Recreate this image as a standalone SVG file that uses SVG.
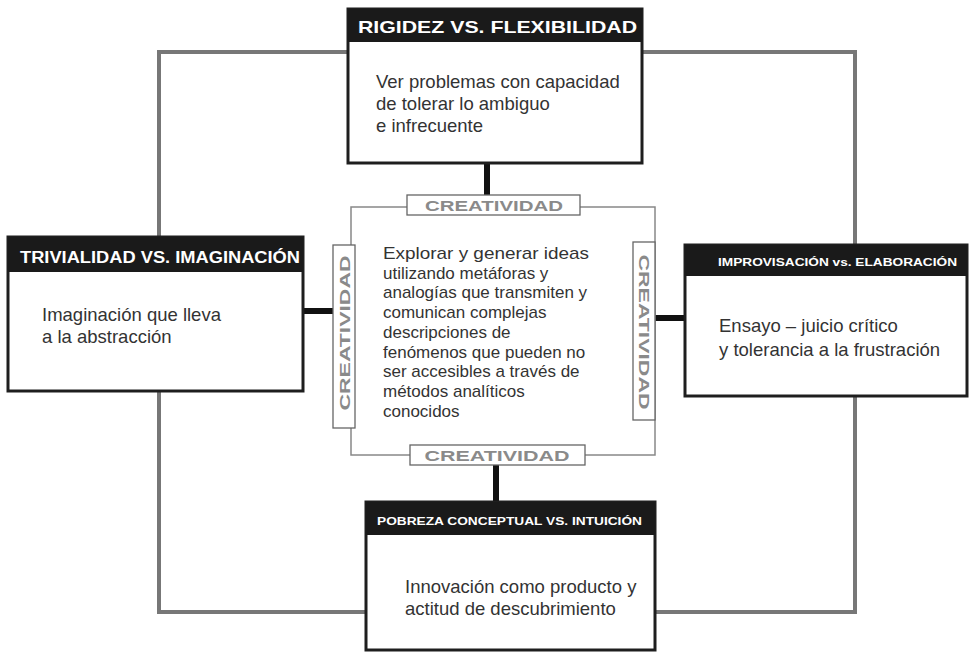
<svg xmlns="http://www.w3.org/2000/svg" width="969" height="652" viewBox="0 0 969 652">
<style>
.box{fill:#fff;stroke:#1e1e1e;stroke-width:3}
.hdr{fill:#1a1a1a}
.ht{font-family:"Liberation Sans",Arial,sans-serif;font-weight:bold;fill:#fff}
.bt{font-family:"Liberation Sans",Arial,sans-serif;font-size:18.5px;fill:#333}
.ct{font-family:"Liberation Sans",Arial,sans-serif;font-size:17px;fill:#333}
.lbl{fill:#fff;stroke:#666;stroke-width:1.3}
.lt{font-family:"Liberation Sans",Arial,sans-serif;font-weight:bold;font-size:15px;fill:#8a8a8a;text-anchor:middle}
.conn{stroke:#111;stroke-width:6;fill:none}
</style>
<rect width="969" height="652" fill="#fff"/>
<g id="loop">
<rect x="159" y="52" width="696" height="560" fill="none" stroke="#777" stroke-width="4"/>
</g>
<g id="connectors">
<line class="conn" x1="487" y1="163" x2="487" y2="196"/>
<line class="conn" x1="303" y1="311" x2="334" y2="311"/>
<line class="conn" x1="655" y1="318" x2="685" y2="318"/>
<line class="conn" x1="496" y1="465" x2="496" y2="502"/>
</g>
<g id="center">
<rect x="351" y="207" width="304" height="248" fill="#fff" stroke="#888" stroke-width="1.5"/>
<text class="ct">
<tspan x="383" y="259" textLength="206" lengthAdjust="spacingAndGlyphs">Explorar y generar ideas</tspan>
<tspan x="383" y="278.7">utilizando metáforas y</tspan>
<tspan x="383" y="298.4">analogías que transmiten y</tspan>
<tspan x="383" y="318.1">comunican complejas</tspan>
<tspan x="383" y="337.8">descripciones de</tspan>
<tspan x="383" y="357.5">fenómenos que pueden no</tspan>
<tspan x="383" y="377.2">ser accesibles a través de</tspan>
<tspan x="383" y="396.9">métodos analíticos</tspan>
<tspan x="383" y="416.6">conocidos</tspan>
</text>
</g>
<g id="label-top">
<rect class="lbl" x="407" y="195" width="173" height="20"/>
<text class="lt" x="494" y="211" textLength="138" lengthAdjust="spacingAndGlyphs">CREATIVIDAD</text>
</g>
<g id="label-bottom">
<rect class="lbl" x="410" y="445" width="175" height="20"/>
<text class="lt" x="497" y="461" textLength="145" lengthAdjust="spacingAndGlyphs">CREATIVIDAD</text>
</g>
<g id="label-left">
<rect class="lbl" x="333" y="245" width="22" height="183"/>
<text class="lt" transform="translate(349.5,333) rotate(-90)" x="0" y="0" textLength="155" lengthAdjust="spacingAndGlyphs">CREATIVIDAD</text>
</g>
<g id="label-right">
<rect class="lbl" x="633" y="242" width="22" height="178"/>
<text class="lt" transform="translate(638.5,332) rotate(90)" x="0" y="0" textLength="155" lengthAdjust="spacingAndGlyphs">CREATIVIDAD</text>
</g>
<g id="node-top">
<rect class="box" x="348" y="9" width="294" height="154"/>
<rect class="hdr" x="348" y="9" width="294" height="33"/>
<text class="ht" x="358" y="33" font-size="17" textLength="279" lengthAdjust="spacingAndGlyphs">RIGIDEZ VS. FLEXIBILIDAD</text>
<text class="bt"><tspan x="376" y="88">Ver problemas con capacidad</tspan><tspan x="376" y="110">de tolerar lo ambiguo</tspan><tspan x="376" y="132">e infrecuente</tspan></text>
</g>
<g id="node-left">
<rect class="box" x="8" y="237" width="295" height="154"/>
<rect class="hdr" x="8" y="237" width="295" height="35"/>
<text class="ht" x="20" y="263" font-size="16" textLength="280" lengthAdjust="spacingAndGlyphs">TRIVIALIDAD VS. IMAGINACIÓN</text>
<text class="bt"><tspan x="42" y="321">Imaginación que lleva</tspan><tspan x="42" y="343">a la abstracción</tspan></text>
</g>
<g id="node-right">
<rect class="box" x="685" y="245" width="282" height="151"/>
<rect class="hdr" x="685" y="245" width="282" height="31"/>
<text class="ht" x="718" y="266" font-size="11.5" textLength="239" lengthAdjust="spacingAndGlyphs">IMPROVISACIÓN vs. ELABORACIÓN</text>
<text class="bt"><tspan x="719" y="332">Ensayo – juicio crítico</tspan><tspan x="719" y="356">y tolerancia a la frustración</tspan></text>
</g>
<g id="node-bottom">
<rect class="box" x="366" y="502" width="289" height="148"/>
<rect class="hdr" x="366" y="502" width="289" height="33"/>
<text class="ht" x="377" y="525" font-size="11" textLength="265" lengthAdjust="spacingAndGlyphs">POBREZA CONCEPTUAL VS. INTUICIÓN</text>
<text class="bt"><tspan x="405" y="593">Innovación como producto y</tspan><tspan x="405" y="615">actitud de descubrimiento</tspan></text>
</g>
</svg>
